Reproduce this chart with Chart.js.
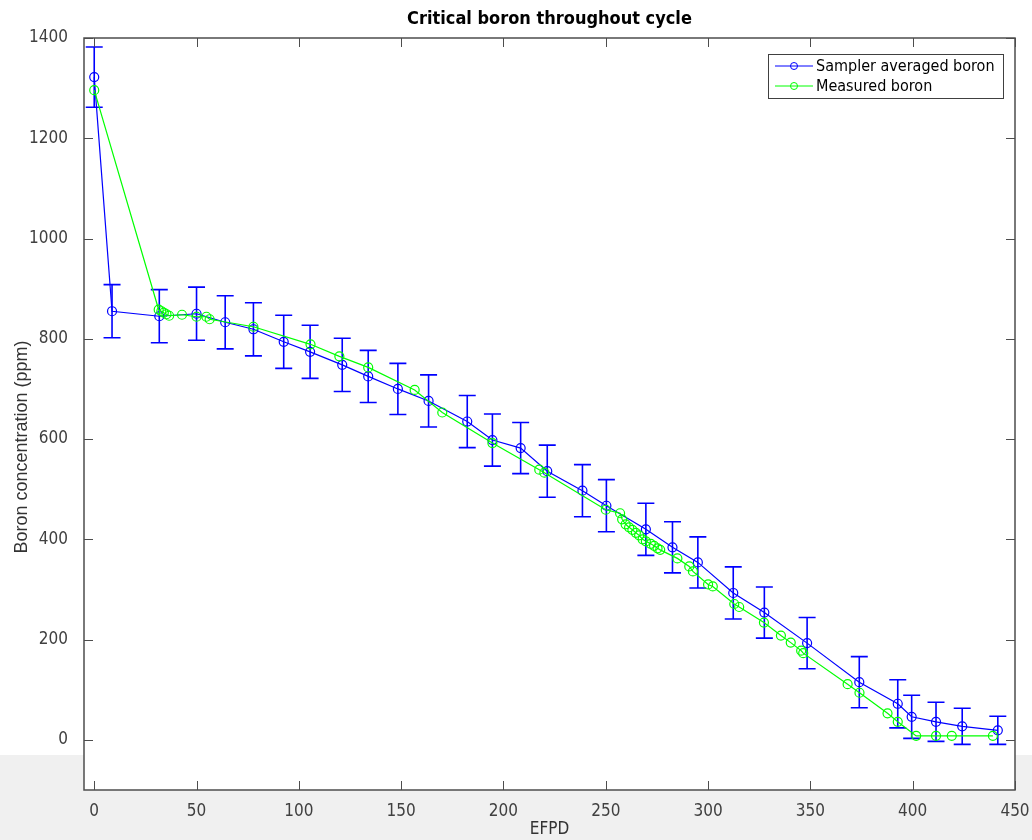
<!DOCTYPE html>
<html>
<head>
<meta charset="utf-8">
<title>Critical boron throughout cycle</title>
<script src="https://cdn.jsdelivr.net/npm/chart.js@4.4.1/dist/chart.umd.min.js"></script>
<style>
    body { margin: 0; background: #ffffff; }
    #wrap { width: 1032px; height: 840px; }
</style>
</head>
<body>
<div id="wrap"><canvas id="boronChart" width="1032" height="840"></canvas></div>
<script>
// Sampler averaged boron (with error bars)
const blueX = [0, 8.7, 31.8, 50, 64, 77.8, 92.6, 105.5, 121.2, 133.9, 148.4, 163.4, 182.3, 194.6, 208.4,
    221.4, 238.6, 250.3, 269.6, 282.6, 295, 312.3, 327.5, 348.4, 373.9, 392.7, 399.5, 411.4, 424.2, 441.6];
const blueY = [1322, 855, 845, 850, 833, 819, 794, 774, 748, 725, 700, 676, 635, 598, 582,
    536, 497, 467, 420, 384, 354, 293, 254, 193, 115, 72, 46, 36, 27, 19];
const blueErr = [60, 53, 53, 53, 53, 53, 53, 53, 53, 52, 51, 52, 52, 52, 51,
    52, 52, 52, 52, 51, 51, 52, 51, 51, 51, 48, 43, 39, 36, 28];

// Measured boron
const greenX = [0, 31.5, 32.8, 34, 35.3, 36.6, 42.9, 50, 54.8, 56.4, 77.8, 105.7, 119.8, 133.9, 156.6,
    170.1, 194.6, 217.5, 220, 250, 257, 258, 259.7, 261.4, 263, 264.7, 266.3, 268, 269.6, 272,
    273.6, 275.3, 276.6, 285, 290.8, 292.6, 300, 302.3, 312.8, 315.2, 327.3, 335.6, 340.4, 345.5,
    346.5, 368.2, 374, 387.7, 392.7, 401.7, 411.4, 419.1, 439.2];
const greenY = [1296, 858, 855, 852, 849, 846, 848, 844, 844, 839, 824, 789, 765, 743, 698,
    653, 592, 539, 533, 459, 452, 440, 430, 424, 419, 413, 408, 400, 396, 391,
    387, 382, 379, 362, 346, 336, 310, 306, 271, 265, 234, 208, 194, 178,
    173, 111, 94, 53, 36, 8, 8, 8, 8];

const xTicks = [0, 50, 100, 150, 200, 250, 300, 350, 400, 450];
const yTicks = [0, 200, 400, 600, 800, 1000, 1200, 1400];

const FONT = '"DejaVu Sans Condensed", "Liberation Sans", Arial, sans-serif';
const BLUE = '#0000ff';
const GREEN = '#00ff00';

function toPoints(xs, ys) {
    return xs.map((x, i) => ({ x: x, y: ys[i] }));
}

// Background, error bars, MATLAB-style box, legend and labels
const matlabPlugin = {
    id: 'matlabLook',
    beforeDraw(chart) {
        const ctx = chart.ctx;
        const a = chart.chartArea;
        ctx.save();
        ctx.fillStyle = '#ffffff';
        ctx.fillRect(0, 0, chart.width, chart.height);
        ctx.fillStyle = '#f0f0f0';
        ctx.fillRect(0, 755, chart.width, chart.height - 755);
        ctx.fillStyle = '#ffffff';
        ctx.fillRect(a.left, a.top, a.right - a.left, a.bottom - a.top);
        ctx.restore();
    },
    beforeDatasetsDraw(chart) {
        const ctx = chart.ctx;
        const xs = chart.scales.x;
        const ys = chart.scales.y;
        ctx.save();
        ctx.strokeStyle = BLUE;
        ctx.lineWidth = 1.6;
        blueX.forEach((v, i) => {
            const px = xs.getPixelForValue(v);
            const top = ys.getPixelForValue(blueY[i] + blueErr[i]);
            const bot = ys.getPixelForValue(blueY[i] - blueErr[i]);
            ctx.beginPath();
            ctx.moveTo(px, top);
            ctx.lineTo(px, bot);
            ctx.moveTo(px - 8.5, top);
            ctx.lineTo(px + 8.5, top);
            ctx.moveTo(px - 8.5, bot);
            ctx.lineTo(px + 8.5, bot);
            ctx.stroke();
        });
        ctx.restore();
    },
    afterDraw(chart) {
        const ctx = chart.ctx;
        const a = chart.chartArea;
        const xs = chart.scales.x;
        const ys = chart.scales.y;
        ctx.save();

        // box
        ctx.strokeStyle = '#4d4d4d';
        ctx.lineWidth = 1.5;
        ctx.strokeRect(a.left, a.top, a.right - a.left, a.bottom - a.top);

        // inward ticks
        ctx.lineWidth = 1;
        ctx.beginPath();
        xTicks.forEach(t => {
            const px = Math.round(xs.getPixelForValue(t)) + 0.5;
            ctx.moveTo(px, a.bottom);
            ctx.lineTo(px, a.bottom - 9);
            ctx.moveTo(px, a.top);
            ctx.lineTo(px, a.top + 9);
        });
        yTicks.forEach(t => {
            const py = Math.round(ys.getPixelForValue(t)) + 0.5;
            ctx.moveTo(a.left, py);
            ctx.lineTo(a.left + 9, py);
            ctx.moveTo(a.right, py);
            ctx.lineTo(a.right - 9, py);
        });
        ctx.stroke();

        // title
        ctx.fillStyle = '#000000';
        ctx.font = 'bold 18px ' + FONT;
        ctx.textAlign = 'center';
        ctx.textBaseline = 'middle';
        ctx.fillText('Critical boron throughout cycle', (a.left + a.right) / 2, 19);

        // y label
        ctx.save();
        ctx.translate(22, 447);
        ctx.rotate(-Math.PI / 2);
        ctx.fillStyle = '#333333';
        ctx.font = '18px "Liberation Sans", Arial, sans-serif';
        ctx.fillText('Boron concentration (ppm)', 0, 0);
        ctx.restore();

        // legend
        const lx = 768, ly = 54, lw = 235, lh = 44;
        ctx.fillStyle = '#ffffff';
        ctx.fillRect(lx, ly, lw, lh);
        ctx.strokeStyle = '#404040';
        ctx.lineWidth = 1;
        ctx.strokeRect(lx + 0.5, ly + 0.5, lw, lh);
        const rows = [['Sampler averaged boron', BLUE, 66], ['Measured boron', GREEN, 86]];
        rows.forEach(r => {
            ctx.strokeStyle = r[1];
            ctx.beginPath();
            ctx.moveTo(775, r[2]);
            ctx.lineTo(813, r[2]);
            ctx.stroke();
            ctx.beginPath();
            ctx.arc(794, r[2], 3.5, 0, Math.PI * 2);
            ctx.stroke();
            ctx.fillStyle = '#000000';
            ctx.font = '16px ' + FONT;
            ctx.textAlign = 'left';
            ctx.textBaseline = 'middle';
            ctx.fillText(r[0], 816, r[2] + 1);
        });
        ctx.restore();
    }
};

const ctx = document.getElementById('boronChart').getContext('2d');
const chart = new Chart(ctx, {
    type: 'scatter',
    data: {
        datasets: [{
            label: 'Sampler averaged boron',
            data: toPoints(blueX, blueY),
            showLine: true,
            borderColor: BLUE,
            backgroundColor: 'rgba(0,0,0,0)',
            borderWidth: 1.2,
            pointRadius: 4.5,
            pointBorderWidth: 1.2,
            pointBorderColor: BLUE,
            pointBackgroundColor: 'rgba(0,0,0,0)',
            tension: 0,
            order: 1
        }, {
            label: 'Measured boron',
            data: toPoints(greenX, greenY),
            showLine: true,
            borderColor: GREEN,
            backgroundColor: 'rgba(0,0,0,0)',
            borderWidth: 1.2,
            pointRadius: 4.5,
            pointBorderWidth: 1.2,
            pointBorderColor: GREEN,
            pointBackgroundColor: 'rgba(0,0,0,0)',
            tension: 0,
            order: 0
        }]
    },
    options: {
        responsive: false,
        animation: false,
        layout: { padding: { top: 38, right: 17, left: 0, bottom: 0 } },
        plugins: {
            legend: { display: false },
            title: { display: false },
            tooltip: { enabled: false }
        },
        scales: {
            x: {
                type: 'linear',
                min: -5,
                max: 450,
                grid: { display: false },
                border: { display: false },
                afterBuildTicks: scale => { scale.ticks = xTicks.map(v => ({ value: v })); },
                afterFit: scale => {
                    scale.height = 50;
                    scale.paddingLeft = 0;
                    scale.paddingRight = 0;
                },
                ticks: {
                    color: '#404040',
                    padding: 3,
                    maxRotation: 0,
                    callback: v => String(v),
                    font: { family: FONT, size: 17 }
                },
                title: {
                    display: true,
                    text: 'EFPD',
                    color: '#333333',
                    padding: { top: 0, bottom: 0 },
                    font: { family: FONT, size: 17 }
                }
            },
            y: {
                type: 'linear',
                min: -100,
                max: 1400,
                grid: { display: false },
                border: { display: false },
                afterBuildTicks: scale => { scale.ticks = yTicks.map(v => ({ value: v })); },
                afterFit: scale => {
                    scale.width = 84;
                    scale.paddingTop = 0;
                    scale.paddingBottom = 0;
                },
                ticks: {
                    color: '#404040',
                    padding: 8,
                    callback: v => String(v),
                    font: { family: FONT, size: 17 }
                }
            }
        }
    },
    plugins: [matlabPlugin]
});
</script>
</body>
</html>
